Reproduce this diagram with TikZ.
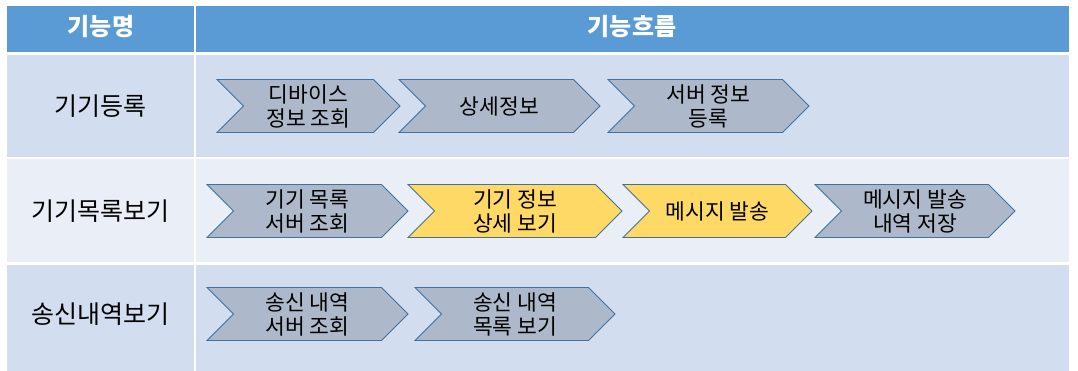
\documentclass[tikz,border=0pt]{standalone}
\usepackage{fontspec}
\setmainfont{Noto Sans CJK KR}
\usetikzlibrary{shapes.symbols}

\definecolor{headblue}{HTML}{5B9BD5}
\definecolor{rowdark}{HTML}{D2DEEF}
\definecolor{rowlight}{HTML}{EAEFF7}
\definecolor{chevgray}{HTML}{ADB9CA}
\definecolor{chevline}{HTML}{41719C}
\definecolor{chevgold}{HTML}{FFD966}

\begin{document}
\begin{tikzpicture}[x=1pt,y=-1pt,
        flowbox/.style={signal, signal to=east, signal from=west,
            draw=chevline, fill=chevgray, line width=0.8pt,
            minimum height=53pt, inner sep=0pt, align=center,
            font=\fontsize{21.5}{24}\selectfont},
        hotbox/.style={flowbox, fill=chevgold},
        headtext/.style={text=white, font=\fontsize{24}{28}\selectfont\bfseries},
        rowtext/.style={font=\fontsize{25}{29}\selectfont}]
        \useasboundingbox (0,0) rectangle (1078,371);

        % table
        \fill[headblue] (7,6) rectangle (194,52);
        \fill[headblue] (196,6) rectangle (1069,52);
        \fill[rowdark] (7,55) rectangle (194,157);
        \fill[rowdark] (196,55) rectangle (1069,157);
        \fill[rowlight] (7,159) rectangle (194,262);
        \fill[rowlight] (196,159) rectangle (1069,262);
        \fill[rowdark] (7,265) rectangle (194,371);
        \fill[rowdark] (196,265) rectangle (1069,371);

        \node[headtext] (hname) at (101,27) {기능명};
        \node[headtext] (hflow) at (632,27) {기능흐름};

        \node[rowtext] (reg) at (100,106) {기기등록};
        \node[rowtext] (list) at (100,211) {기기목록보기};
        \node[rowtext] (hist) at (100,314) {송신내역보기};

        % flows
        \node[flowbox, minimum width=183pt] (reg1) at (308.5,106) {디바이스\\정보 조회};
        \node[flowbox, minimum width=201pt] (reg2) at (499.5,106) {상세정보};
        \node[flowbox, minimum width=201pt] (reg3) at (708.5,106) {서버 정보\\등록};

        \node[flowbox, minimum width=201pt] (list1) at (307.5,211) {기기 목록\\서버 조회};
        \node[hotbox, minimum width=214pt] (list2) at (515,211) {기기 정보\\상세 보기};
        \node[hotbox, minimum width=189pt] (list3) at (717.5,211) {메시지 발송};
        \node[flowbox, minimum width=200pt] (list4) at (915,211) {메시지 발송\\내역 저장};

        \node[flowbox, minimum width=201pt] (hist1) at (307.5,314) {송신 내역\\서버 조회};
        \node[flowbox, minimum width=200pt] (hist2) at (515,314) {송신 내역\\목록 보기};
\end{tikzpicture}
\end{document}
